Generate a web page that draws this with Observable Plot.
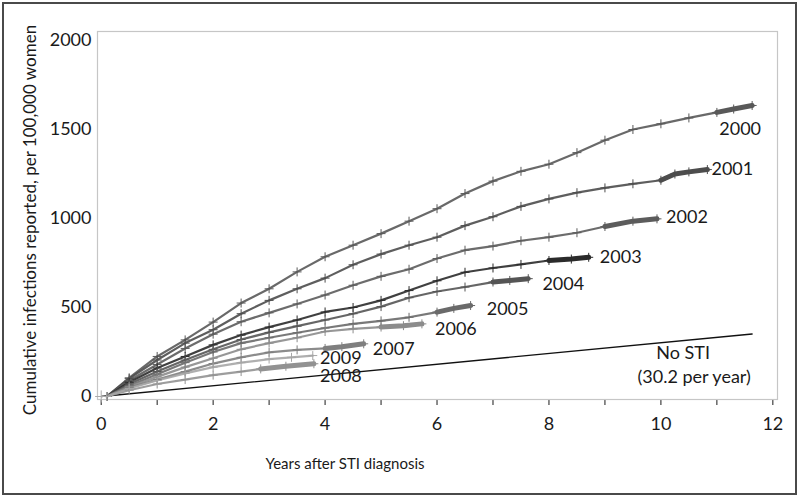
<!DOCTYPE html>
<html>
<head>
<meta charset="utf-8">
<script src="https://cdn.jsdelivr.net/npm/d3@7"></script>
<script src="https://cdn.jsdelivr.net/npm/@observablehq/plot@0.6"></script>
<style>
  html, body { margin: 0; padding: 0; background: #fff; }
  #chart svg { display: block; }
</style>
</head>
<body>
<div id="chart"></div>
<script>
// ---------- data ----------
const years = [2000, 2001, 2002, 2003, 2004, 2005, 2006, 2007, 2008, 2009];
const shades = ["#595959", "#4d4d4d", "#5c5c5c", "#2b2b2b", "#555555", "#6a6a6a", "#8c8c8c", "#7f7f7f", "#929292", "#a6a6a6"];

// [years after diagnosis, cumulative infections per 100,000]
const c2000 = [[0.1,0],[0.5,105],[1,225],[1.5,318],[2,418],[2.5,525],[3,605],[3.5,700],[4,785],[4.5,850],[5,915],[5.5,985],[6,1055],[6.5,1140],[7,1210],[7.5,1265],[8,1305],[8.5,1370],[9,1440],[9.5,1500],[10,1532],[10.5,1565],[11,1596],[11.3,1615],[11.63,1635]];
const c2001 = [[0.1,0],[0.5,100],[1,205],[1.5,300],[2,375],[2.5,465],[3,540],[3.5,605],[4,665],[4.5,740],[5,800],[5.5,850],[6,895],[6.5,960],[7,1010],[7.5,1068],[8,1110],[8.5,1145],[9,1172],[9.5,1195],[10,1215],[10.25,1250],[10.5,1262],[10.83,1275]];
const c2002 = [[0.1,0],[0.5,90],[1,180],[1.5,270],[2,350],[2.5,420],[3,470],[3.5,520],[4,570],[4.5,625],[5,675],[5.5,715],[6,775],[6.5,822],[7,845],[7.5,875],[8,895],[8.5,920],[9,955],[9.5,985],[9.93,998]];
const c2003 = [[0.1,0],[0.5,80],[1,160],[1.5,225],[2,290],[2.5,345],[3,390],[3.5,430],[4,475],[4.5,500],[5,540],[5.5,595],[6,650],[6.5,698],[7,722],[7.5,742],[8,764],[8.4,772],[8.71,782]];
const c2004 = [[0.1,0],[0.5,70],[1,140],[1.5,205],[2,265],[2.5,320],[3,360],[3.5,395],[4,430],[4.5,465],[5,505],[5.5,555],[6,590],[6.5,615],[7,643],[7.3,652],[7.63,662]];
const c2005 = [[0.1,0],[0.5,60],[1,125],[1.5,190],[2,250],[2.5,300],[3,330],[3.5,358],[4,385],[4.5,408],[5,425],[5.5,445],[6,474],[6.3,495],[6.6,511]];
const c2006 = [[0.1,0],[0.5,55],[1,110],[1.5,165],[2,215],[2.5,265],[3,300],[3.5,330],[4,365],[4.5,380],[5,390],[5.4,398],[5.73,408]];
const c2007 = [[0.1,0],[0.5,50],[1,95],[1.5,140],[2,185],[2.5,220],[3,248],[3.5,262],[4,270],[4.3,280],[4.69,296]];
const c2008 = [[0.1,0],[0.5,35],[1,70],[1.5,95],[2,120],[2.5,140],[2.85,155],[3.3,170],[3.8,184]];
const c2009 = [[0.1,0],[0.5,45],[1,90],[1.5,130],[2,165],[2.5,190],[3,210],[3.4,220],[3.78,230]];
const series = [c2000, c2001, c2002, c2003, c2004, c2005, c2006, c2007, c2008, c2009];

// start of the densely-reported final stretch of each cohort (years)
const denseFrom = [11, 10, 9, 8, 7, 6, 5, 4, 2.85, null];

// reference line: no STI, 30.2 per year
const noSTI = [[0, 0], [11.63, 351]];
const noSTILabel = ["No STI", "(30.2 per year)"];
const originPoint = [[0, 0]];

const xTicks = [0, 1, 2, 3, 4, 5, 6, 7, 8, 9, 10, 11, 12];
const yTicks = [0, 500, 1000, 1500, 2000];
const xTitle = "Years after STI diagnosis";
const yTitle = "Cumulative infections reported, per 100,000 women";

// ---------- styles ----------
const FONT = "Lato, 'Open Sans', sans-serif";
const labelOffsets = {
  2000: [-12, 24], 2001: [25, 0], 2002: [30, -2], 2003: [32, 0], 2004: [35, 6],
  2005: [37, 4], 2006: [34, 5], 2007: [30, 5], 2008: [27, 12], 2009: [28, 3]
};

// ---------- build tables ----------
const rows = years.flatMap((y, i) => series[i].map(([t, v]) => ({cohort: y, t, v})));
const dense = years.flatMap((y, i) =>
  denseFrom[i] == null ? [] : series[i].filter(([t]) => t >= denseFrom[i]).map(([t, v]) => ({cohort: y, t, v})));
const ends = years.map((y, i) => {
  const s = series[i], [t, v] = s[s.length - 1];
  return {cohort: y, t, v, label: String(y)};
});
const noSTIRows = noSTI.map(([t, v]) => ({t, v}));
const noSTIEnd = noSTIRows[noSTIRows.length - 1];

const labelMarks = ends.map(d => Plot.text([d], {
  x: "t", y: "v", text: "label", fontSize: 18, fill: "#1a1a1a",
  dx: labelOffsets[d.cohort][0], dy: labelOffsets[d.cohort][1], textAnchor: "middle"
}));

const chart = Plot.plot({
  width: 800,
  height: 497,
  marginLeft: 97,
  marginRight: 23,
  marginTop: 31,
  marginBottom: 98,
  style: {fontFamily: FONT, fontSize: "18px", color: "#1a1a1a", background: "#fff"},
  x: {domain: [-0.066, 12.083], ticks: xTicks, tickSize: 6, tickPadding: 12,
      tickFormat: d => (d % 2 === 0 ? String(d) : ""), label: null},
  y: {domain: [-16.9, 2050.6], ticks: yTicks, tickSize: 0, tickPadding: 6,
      tickFormat: d => String(d), label: null},
  color: {domain: years, range: shades},
  marks: [
    Plot.frame({stroke: "#c6c6c6", strokeWidth: 1.2}),
    Plot.line(noSTIRows, {x: "t", y: "v", stroke: "#111", strokeWidth: 1.3}),
    Plot.line(rows, {x: "t", y: "v", z: "cohort", stroke: "cohort", strokeWidth: 2.2, strokeOpacity: 0.9, curve: "linear"}),
    Plot.line(dense, {x: "t", y: "v", z: "cohort", stroke: "cohort", strokeWidth: 5}),
    Plot.dot(rows, {x: "t", y: "v", stroke: "cohort", symbol: "plus", r: 3, strokeWidth: 1}),
    Plot.dot(originPoint.map(([t, v]) => ({t, v})), {x: "t", y: "v", stroke: "#aaa", symbol: "plus", r: 4, strokeWidth: 1}),
    ...labelMarks,
    Plot.text([noSTIEnd], {x: "t", y: "v", text: () => noSTILabel[0], fontSize: 18, fill: "#1a1a1a", dx: -69, dy: 19, textAnchor: "middle"}),
    Plot.text([noSTIEnd], {x: "t", y: "v", text: () => noSTILabel[1], fontSize: 18, fill: "#1a1a1a", dx: -58, dy: 43, textAnchor: "middle"})
  ]
});

document.getElementById("chart").appendChild(chart);

// axis styling: light gray tick marks
const svg = d3.select(chart);
svg.selectAll("[aria-label='x-axis'] line, [aria-label='x-axis'] path").attr("stroke", "#bdbdbd");
svg.selectAll("[aria-label='x-axis'] text, [aria-label='y-axis'] text").attr("fill", "#1a1a1a");

// axis titles
svg.append("text")
  .attr("transform", "translate(32,220) rotate(-90)")
  .attr("text-anchor", "middle").attr("dominant-baseline", "middle")
  .attr("font-family", FONT).attr("font-size", 17).attr("fill", "#1a1a1a")
  .text(yTitle);
svg.append("text")
  .attr("x", 345).attr("y", 465)
  .attr("text-anchor", "middle").attr("dominant-baseline", "middle")
  .attr("font-family", FONT).attr("font-size", 15).attr("fill", "#1a1a1a")
  .text(xTitle);

// outer border of the figure
svg.append("rect")
  .attr("x", 3).attr("y", 3).attr("width", 793).attr("height", 491)
  .attr("fill", "none").attr("stroke", "#4a4a4a").attr("stroke-width", 2);
</script>
</body>
</html>
